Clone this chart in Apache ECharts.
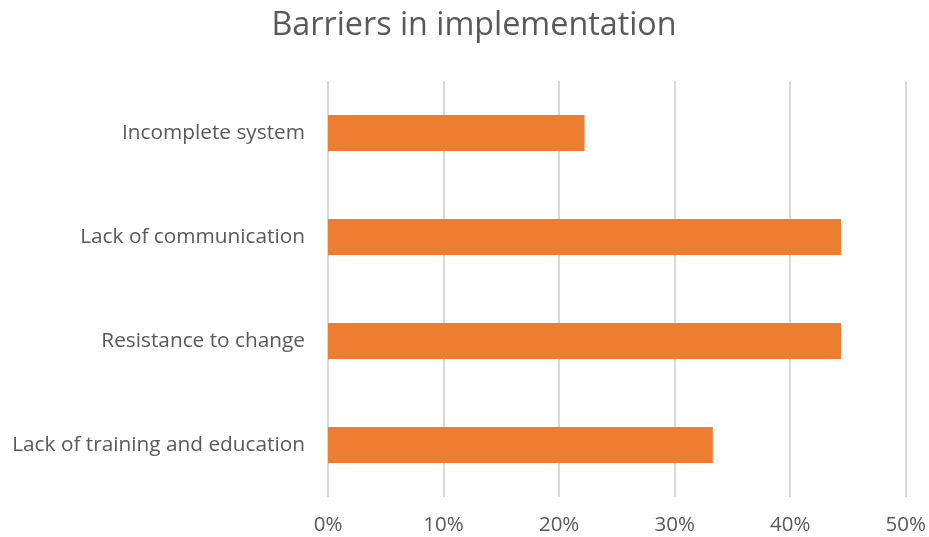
<!DOCTYPE html>
<html>
<head>
<meta charset="utf-8">
<script src="https://cdn.jsdelivr.net/npm/echarts@6/dist/echarts.min.js"></script>
<style>
  html, body { margin: 0; padding: 0; background: #fff; }
  #chart { width: 929px; height: 537px; }
</style>
</head>
<body>
<div id="chart"></div>
<script>
// Categories listed bottom-to-top (category axis on y starts at the bottom)
const categories = [
  'Lack of training and education',
  'Resistance to change',
  'Lack of communication',
  'Incomplete system'
];
// Share of respondents, in percent
const values = [33.3, 44.4, 44.4, 22.2];
const xTicks = { min: 0, max: 50, interval: 10 };

const textColor = '#595959';
const fontFamily = '"Open Sans", "Liberation Sans", sans-serif';

const chart = echarts.init(document.getElementById('chart'), null, { renderer: 'canvas' });
chart.setOption({
  animation: false,
  title: {
    text: 'Barriers in implementation',
    left: 469,
    textAlign: 'center',
    top: 5,
    textStyle: { color: textColor, fontSize: 32.3, fontWeight: 'normal', fontFamily }
  },
  grid: { left: 328, right: 22, top: 81, bottom: 40 },
  xAxis: {
    type: 'value',
    min: xTicks.min,
    max: xTicks.max,
    interval: xTicks.interval,
    axisLine: { show: false },
    axisTick: { show: false },
    axisLabel: {
      formatter: v => v + '%',
      color: textColor,
      fontSize: 20.5,
      fontFamily,
      margin: 18
    },
    splitLine: { lineStyle: { color: '#D9D9D9', width: 2 } }
  },
  yAxis: {
    type: 'category',
    data: categories,
    axisLine: { show: false },
    axisTick: { show: false },
    axisLabel: { color: textColor, fontSize: 20.8, fontFamily, margin: 23 }
  },
  series: [{
    type: 'bar',
    data: values,
    barWidth: 36,
    itemStyle: { color: '#ED7D31' }
  }]
});
</script>
</body>
</html>
